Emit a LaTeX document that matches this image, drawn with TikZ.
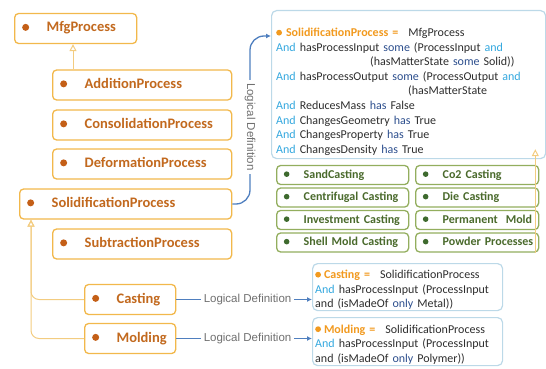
\documentclass[tikz,border=0pt]{standalone}
\usepackage{fontspec}
\setmainfont{Carlito}
\newfontfamily\arialfont{Liberation Sans}
\usetikzlibrary{arrows.meta}

\definecolor{procline}{HTML}{F2B84B}
\definecolor{proctext}{HTML}{C2691E}
\definecolor{procdot}{HTML}{C45F17}
\definecolor{isaline}{HTML}{F3CC80}
\definecolor{kindline}{HTML}{93AE5E}
\definecolor{kindtext}{HTML}{4A6A2C}
\definecolor{kinddot}{HTML}{3E6A2E}
\definecolor{defline}{HTML}{BCD9E8}
\definecolor{deftext}{HTML}{2E2E2E}
\definecolor{defname}{HTML}{F29A1F}
\definecolor{andblue}{HTML}{33A8DF}
\definecolor{kwblue}{HTML}{2D4F8E}
\definecolor{ldblue}{HTML}{4F7FBF}
\definecolor{ldgray}{HTML}{707070}

\newcommand{\bulletdot}[2]{\tikz[baseline=-0.32em]\fill[#1] (0,0) circle (#2);}
\newcommand{\kindlabel}[1]{\mbox{\bulletdot{kinddot}{2.8pt}\hspace{14.2pt}#1}}
\newcommand{\kwAnd}{\textcolor{andblue}{And}}
\newcommand{\kwand}{\textcolor{andblue}{and}}
\newcommand{\kw}[1]{\textcolor{kwblue}{#1}}

\begin{document}
\begin{tikzpicture}[x=1pt, y=-1pt,
    procbox/.style={draw=procline, line width=1.3pt, rounded corners=4pt, fill=white,
        inner xsep=7.5pt, inner ysep=0pt, minimum height=30pt, text width=#1, align=left,
        text height=10pt, text depth=3pt, anchor=west,
        text=proctext, font=\fontsize{14.5}{16}\selectfont\bfseries},
    kindbox/.style={draw=kindline, line width=1.3pt, rounded corners=4pt, fill=white,
        inner xsep=7.2pt, inner ysep=0pt, minimum height=19pt, text width=#1, align=left,
        text height=8.5pt, text depth=2.5pt, anchor=west,
        text=kindtext, font=\fontsize{12}{14}\selectfont\bfseries},
    defbox/.style={draw=defline, line width=1.2pt, rounded corners=5pt, fill=white,
        anchor=north west, inner sep=0pt},
    deftxt/.style={anchor=base west, inner sep=0pt, text width=#1, align=left,
        text=deftext, font=\fontsize{12}{14.6}\selectfont},
    isa/.style={draw=isaline, line width=1pt, -{Triangle[open, length=7pt, width=7pt]}},
    ldarrow/.style={draw=ldblue, line width=1.3pt, -{Latex[length=5pt, width=5pt]}},
    ldlabel/.style={fill=white, inner xsep=3pt, inner ysep=1pt, text=ldgray,
        font=\arialfont\fontsize{11.5}{13}\selectfont},
]
    \useasboundingbox (0,0) rectangle (546,369);

    %% Process hierarchy
    \node[procbox=107pt] (mfg) at (14,28.5) {\bulletdot{procdot}{3.5pt}\hspace{17.5pt}MfgProcess};
    \node[procbox=164pt] (addition) at (52,85) {\bulletdot{procdot}{3.5pt}\hspace{17.5pt}AdditionProcess};
    \node[procbox=164pt] (consolidation) at (52,125) {\bulletdot{procdot}{3.5pt}\hspace{17.5pt}ConsolidationProcess};
    \node[procbox=164pt] (deformation) at (52,164) {\bulletdot{procdot}{3.5pt}\hspace{17.5pt}DeformationProcess};
    \node[procbox=197pt] (solidification) at (19,204) {\bulletdot{procdot}{3.5pt}\hspace{17.5pt}SolidificationProcess};
    \node[procbox=164pt] (subtraction) at (52,244) {\bulletdot{procdot}{3.5pt}\hspace{17.5pt}SubtractionProcess};
    \node[procbox=76pt] (casting) at (84,299.5) {\bulletdot{procdot}{3.5pt}\hspace{17.5pt}Casting};
    \node[procbox=76pt] (molding) at (84,338.5) {\bulletdot{procdot}{3.5pt}\hspace{17.5pt}Molding};

    \draw[isa] ([xshift=21pt]addition.north west) -- ([xshift=21pt]addition.north west |- mfg.south);
    \draw[isa, rounded corners=8pt] (casting.west) -| ([xshift=12pt]solidification.south west);
    \draw[isa, rounded corners=8pt] (molding.west) -| ([xshift=12pt]solidification.south west);

    %% Definition of SolidificationProcess
    \node[defbox, minimum width=274pt, minimum height=148pt] (soliddef) at (271,10) {};
    \node[deftxt=268pt] (soliddeftext) at (276,36.5) {%
        \bulletdot{defname}{2.9pt}\hspace{4pt}\textcolor{defname}{\bfseries SolidificationProcess =}\hspace{10pt}MfgProcess\\
        \kwAnd\ hasProcessInput \kw{some} (ProcessInput \kwand\\
        \hspace*{94pt}(hasMatterState \kw{some} Solid))\\
        \kwAnd\ hasProcessOutput \kw{some} (ProcessOutput \kwand\\
        \hspace*{132pt}(hasMatterState\\
        \kwAnd\ ReducesMass \kw{has} False\\
        \kwAnd\ ChangesGeometry \kw{has} True\\
        \kwAnd\ ChangesProperty \kw{has} True\\
        \kwAnd\ ChangesDensity \kw{has} True};

    \coordinate (ldbend) at (250,36);
    \draw[ldarrow, rounded corners=14pt] (solidification.east) -| (ldbend) -- ([yshift=-26pt]soliddef.north west);
    \node[ldlabel, rotate=-90] (ldtext) at (250,127) {Logical Definition};

    %% Kinds of solidification
    \node[kindbox=117.6pt] (sand) at (276,175) {\kindlabel{SandCasting}};
    \node[kindbox=117.6pt] (centrifugal) at (276,197.5) {\kindlabel{Centrifugal Casting}};
    \node[kindbox=117.6pt] (investment) at (276,220) {\kindlabel{Investment Casting}};
    \node[kindbox=117.6pt] (shellmold) at (276,242.5) {\kindlabel{Shell Mold Casting}};
    \node[kindbox=108.6pt] (co2) at (415,175) {\kindlabel{Co2 Casting}};
    \node[kindbox=108.6pt] (die) at (415,197.5) {\kindlabel{Die Casting}};
    \node[kindbox=108.6pt] (permanent) at (415,220) {\kindlabel{Permanent\hspace{4pt} Mold}};
    \node[kindbox=108.6pt] (powder) at (415,242.5) {\kindlabel{Powder Processes}};

    \draw[isa, shorten >=-10pt] ([xshift=-4pt]powder.south east) -- ([xshift=-4pt]powder.south east |- soliddef.south);

    %% Definitions of Casting and Molding
    \node[defbox, minimum width=190pt, minimum height=47pt] (castdef) at (312,263) {};
    \node[deftxt=185pt] (castdeftext) at (315,278.5) {%
        \bulletdot{defname}{2.9pt}\hspace{3pt}\textcolor{defname}{\bfseries Casting =}\hspace{10pt}SolidificationProcess\\
        \kwAnd\ hasProcessInput (ProcessInput\\
        and (isMadeOf \kw{only} Metal))};
    \node[defbox, minimum width=190pt, minimum height=48pt] (molddef) at (312,317) {};
    \node[deftxt=185pt] (molddeftext) at (315,333) {%
        \bulletdot{defname}{2.9pt}\hspace{3pt}\textcolor{defname}{\bfseries Molding =}\hspace{10pt}SolidificationProcess\\
        \kwAnd\ hasProcessInput (ProcessInput\\
        and (isMadeOf \kw{only} Polymer))};

    \draw[ldarrow] (casting.east) -- node[ldlabel, pos=0.525] (castld) {Logical Definition} (casting.east -| castdef.west);
    \draw[ldarrow] (molding.east) -- node[ldlabel, pos=0.525] (moldld) {Logical Definition} (molding.east -| molddef.west);
\end{tikzpicture}
\end{document}
